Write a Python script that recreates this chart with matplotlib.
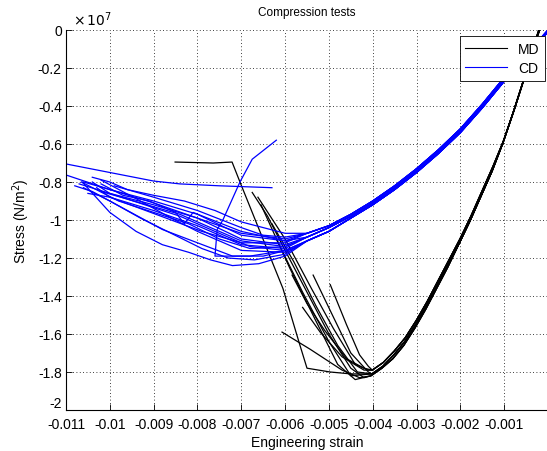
"""Compression tests: stress-strain curves for MD and CD samples (MATLAB-style look)."""

import matplotlib

matplotlib.use("Agg")
import matplotlib.pyplot as plt
import numpy as np

# strain in units of 1e-3, stress in units of 1e7 N/m^2
# loading branches (shared right-hand part), a few read-off variants
MD_BRANCHES = [
    [(-0.19, 0.0), (-0.36, -0.11), (-0.51, -0.23), (-0.76, -0.41), (-1.01, -0.58), (-1.26, -0.72),
     (-1.51, -0.85), (-1.76, -0.98), (-2.01, -1.10), (-2.26, -1.21), (-2.51, -1.32), (-2.76, -1.43),
     (-3.01, -1.53), (-3.26, -1.62), (-3.51, -1.69), (-3.76, -1.75), (-4.01, -1.79)],
    [(-0.20, 0.0), (-0.37, -0.11), (-0.52, -0.24), (-0.77, -0.42), (-1.02, -0.59), (-1.27, -0.74),
     (-1.52, -0.87), (-1.77, -1.00), (-2.02, -1.12), (-2.27, -1.23), (-2.52, -1.34), (-2.77, -1.45),
     (-3.02, -1.55), (-3.27, -1.64), (-3.52, -1.71), (-3.77, -1.77), (-4.02, -1.81)],
    [(-0.21, 0.0), (-0.38, -0.12), (-0.54, -0.25), (-0.79, -0.43), (-1.04, -0.60), (-1.29, -0.75),
     (-1.54, -0.88), (-1.79, -1.01), (-2.04, -1.13), (-2.29, -1.25), (-2.54, -1.36), (-2.79, -1.47),
     (-3.04, -1.57), (-3.29, -1.66), (-3.54, -1.73), (-3.79, -1.78), (-4.04, -1.82)],
]

# (branch index, unloading tail)
MD_TAILS = [
    (1, [(-4.50, -1.81), (-4.97, -1.80), (-5.50, -1.78), (-5.66, -1.66), (-6.05, -1.36),
         (-7.03, -0.80), (-7.21, -0.695), (-7.64, -0.70), (-8.51, -0.695)]),
    (2, [(-4.20, -1.83), (-4.50, -1.78), (-5.00, -1.60), (-5.50, -1.38), (-6.00, -1.16),
         (-6.40, -0.98), (-6.75, -0.855)]),
    (0, [(-4.10, -1.79), (-4.40, -1.76), (-4.90, -1.57), (-5.40, -1.36), (-6.00, -1.10),
         (-6.62, -0.88)]),
    (2, [(-4.30, -1.83), (-4.70, -1.79), (-5.43, -1.68), (-6.07, -1.59)]),
    (0, [(-4.20, -1.78), (-4.60, -1.73), (-5.10, -1.58), (-5.50, -1.44), (-5.84, -1.29)]),
    (1, [(-4.10, -1.80), (-4.50, -1.70), (-4.90, -1.51), (-5.36, -1.29)]),
    (0, [(-4.10, -1.77), (-4.30, -1.71), (-4.60, -1.55), (-4.97, -1.34)]),
    (2, [(-4.40, -1.84), (-4.80, -1.76), (-5.30, -1.53), (-5.90, -1.25), (-6.55, -0.92)]),
    (1, [(-4.50, -1.82), (-5.00, -1.64), (-5.60, -1.38), (-6.20, -1.10)]),
    (0, [(-4.20, -1.79), (-4.70, -1.72), (-5.20, -1.59), (-5.60, -1.46)]),
    (1, [(-4.35, -1.80), (-4.80, -1.66), (-5.30, -1.45), (-5.80, -1.22), (-6.30, -1.02)]),
]

CD_BRANCHES = [
    [(0.00, 0.0), (-0.50, -0.13), (-1.00, -0.26), (-1.50, -0.40), (-2.00, -0.53), (-2.50, -0.64),
     (-3.00, -0.74), (-3.50, -0.83), (-4.00, -0.91), (-4.50, -0.98), (-5.00, -1.04), (-5.50, -1.09)],
    [(0.00, -0.01), (-0.50, -0.14), (-1.00, -0.27), (-1.50, -0.41), (-2.00, -0.54), (-2.50, -0.65),
     (-3.00, -0.75), (-3.50, -0.84), (-4.00, -0.92), (-4.50, -0.99), (-5.00, -1.06), (-5.50, -1.11)],
    [(0.02, 0.0), (-0.50, -0.12), (-1.00, -0.25), (-1.50, -0.39), (-2.00, -0.52), (-2.50, -0.63),
     (-3.00, -0.73), (-3.50, -0.82), (-4.00, -0.90), (-4.50, -0.97), (-5.00, -1.03), (-5.50, -1.07)],
]

CD_TAILS = [
    (1, [(-6.0, -1.19), (-6.6, -1.23), (-7.2, -1.24), (-7.7, -1.21), (-8.2, -1.17), (-8.8, -1.13),
         (-9.4, -1.06), (-10.0, -0.96), (-10.63, -0.80)]),
    (1, [(-6.0, -1.16), (-6.8, -1.19), (-7.6, -1.19), (-7.55, -1.05), (-7.42, -1.0), (-7.03, -0.80),
         (-6.75, -0.68), (-6.2, -0.58)]),
    (2, [(-6.0, -1.10), (-7.0, -1.07), (-8.0, -0.99), (-9.0, -0.91), (-10.0, -0.84), (-11.3, -0.74),
         (-11.0, -0.705), (-10.0, -0.75), (-9.0, -0.795), (-8.4, -0.81), (-7.5, -0.82), (-6.3, -0.83)]),
    (0, [(-6.0, -1.13), (-7.0, -1.10), (-8.0, -0.99), (-9.0, -0.92), (-10.0, -0.86), (-10.4, -0.80)]),
    (2, [(-6.0, -1.11), (-7.0, -1.08), (-8.0, -0.97), (-9.0, -0.90), (-10.0, -0.84), (-10.6, -0.80)]),
    (0, [(-6.0, -1.15), (-7.0, -1.13), (-8.0, -1.03), (-9.0, -0.95), (-10.0, -0.88), (-10.3, -0.83)]),
    (1, [(-6.0, -1.17), (-7.0, -1.16), (-8.0, -1.06), (-8.6, -0.99), (-9.3, -0.90), (-10.2, -0.79)]),
    (2, [(-6.0, -1.09), (-6.5, -1.08), (-7.0, -1.04), (-8.0, -0.95), (-9.0, -0.88), (-9.9, -0.82)]),
    (0, [(-6.0, -1.14), (-6.8, -1.15), (-7.5, -1.10), (-8.2, -1.02), (-9.0, -0.96), (-9.8, -0.90),
         (-10.65, -0.80)]),
    (1, [(-5.8, -1.15), (-6.5, -1.19), (-7.2, -1.19), (-8.0, -1.12), (-8.8, -1.05), (-9.6, -0.95),
         (-10.4, -0.85), (-10.8, -0.82)]),
    (2, [(-6.0, -1.07), (-7.0, -1.01), (-7.6, -0.95), (-8.3, -0.90), (-9.0, -0.87), (-9.6, -0.84),
         (-10.0, -0.80), (-10.4, -0.775)]),
    (1, [(-6.0, -1.18), (-6.7, -1.21), (-7.3, -1.20), (-7.9, -1.15), (-8.6, -1.07), (-9.3, -0.99),
         (-10.0, -0.90), (-10.6, -0.83)]),
    (0, [(-6.0, -1.11), (-7.0, -1.06), (-8.1, -0.96), (-8.3, -1.02), (-8.5, -0.96), (-9.1, -0.90),
         (-9.7, -0.87), (-10.2, -0.81)]),
    (0, [(-6.0, -1.14), (-7.0, -1.11), (-7.8, -1.03), (-8.4, -0.97), (-9.0, -0.93), (-9.6, -0.89),
         (-10.2, -0.85)]),
    (2, [(-6.0, -1.12), (-7.0, -1.12), (-7.9, -1.06), (-8.6, -1.00), (-9.3, -0.94), (-10.0, -0.88),
         (-10.5, -0.86)]),
    (1, [(-6.0, -1.16), (-6.8, -1.14), (-7.6, -1.06), (-8.4, -0.98), (-9.2, -0.92), (-10.0, -0.86),
         (-10.7, -0.81)]),
]

X_TICKS = [-0.011, -0.010, -0.009, -0.008, -0.007, -0.006, -0.005, -0.004, -0.003, -0.002, -0.001]
X_LABELS = ["-0.011", "-0.01", "-0.009", "-0.008", "-0.007", "-0.006",
            "-0.005", "-0.004", "-0.003", "-0.002", "-0.001"]
Y_TICKS = [0, -0.2, -0.4, -0.6, -0.8, -1.0, -1.2, -1.4, -1.6, -1.8, -2.0]
Y_LABELS = ["0", "-0.2", "-0.4", "-0.6", "-0.8", "-1", "-1.2", "-1.4", "-1.6", "-1.8", "-2"]

plt.rcParams["font.family"] = ["Liberation Sans", "DejaVu Sans"]

fig = plt.figure(figsize=(5.47, 4.52), dpi=100)
ax = fig.add_axes([66 / 547, 41 / 452, 482 / 547, 380 / 452])


def draw(branches, tails, color):
    for k, tail in tails:
        a = np.asarray(branches[k] + tail)
        ax.plot(a[:, 0] * 1e-3, a[:, 1], color=color, lw=0.9)


draw(MD_BRANCHES, MD_TAILS, "black")
draw(CD_BRANCHES, CD_TAILS, "#0000ff")

ax.set_xlim(-0.011, 0)
ax.set_ylim(-2, 0)
ax.set_xticks(X_TICKS)
ax.set_xticklabels(X_LABELS)
ax.set_yticks(Y_TICKS)
ax.set_yticklabels(Y_LABELS)
ax.tick_params(direction="in", length=4, width=0.6, labelsize=10, pad=3)
ax.tick_params(axis="x", pad=5)
ax.get_yticklabels()[-1].set_verticalalignment("bottom")
ax.grid(True, color="black", linestyle=(0, (1, 3)), lw=0.6)
for s in ("top", "right"):
    ax.spines[s].set_visible(False)
for s in ("left", "bottom"):
    ax.spines[s].set_linewidth(0.8)

ax.set_title("Compression tests", fontsize=8.5, pad=11)
ax.set_xlabel("Engineering strain", fontsize=10, labelpad=3)
ax.set_ylabel("Stress (N/m$^2$)", fontsize=10, labelpad=4)
ax.text(0.015, 1.005, r"$\times\,10^{7}$", transform=ax.transAxes, fontsize=10,
        ha="left", va="bottom")

handles = [plt.Line2D([], [], color="black", lw=0.8), plt.Line2D([], [], color="#0000ff", lw=0.8)]
leg = ax.legend(handles, ["MD", "CD"], loc="upper right", bbox_to_anchor=(545 / 547, 1 - 37 / 452),
                bbox_transform=fig.transFigure, fontsize=10, handlelength=3, fancybox=False,
                framealpha=1, edgecolor="black", borderaxespad=0, borderpad=0.4, labelspacing=0.4)
leg.get_frame().set_linewidth(0.6)

fig.savefig("out.png", dpi=100)
